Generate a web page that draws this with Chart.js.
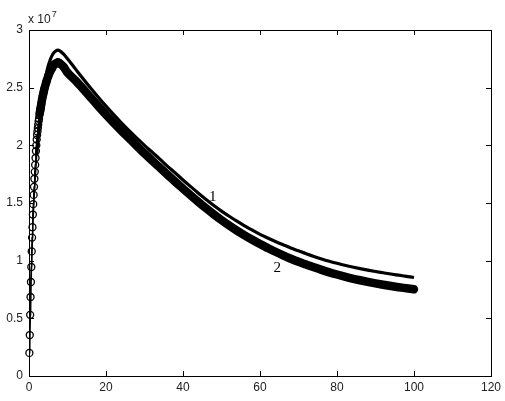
<!DOCTYPE html>
<html>
<head>
<meta charset="utf-8">
<script src="https://cdn.jsdelivr.net/npm/chart.js@4.4.1/dist/chart.umd.min.js"></script>
<style>
  body { margin: 0; background: #fff; }
  #wrap { width: 505px; height: 401px; }
</style>
</head>
<body>
<div id="wrap"><canvas id="plot" width="505" height="401"></canvas></div>
<script>
// values in units of 10^7
const curve1X = [0.1, 0.5, 1, 1.5, 2, 2.5, 3, 3.5, 4, 4.5, 5, 5.5, 6, 6.5, 7, 7.5, 8, 9, 10,
    12, 14, 16, 18, 20, 22, 24, 26, 28, 30, 32, 34, 36, 38, 40, 42, 44, 46, 48, 50,
    52, 54, 56, 58, 60, 62, 64, 66, 68, 70, 72, 74, 76, 78, 80, 82, 84, 86, 88, 90,
    92, 94, 96, 98, 100];
const curve1Y = [0.2, 0.78, 1.3, 1.65, 1.92, 2.12, 2.28, 2.42, 2.53, 2.62, 2.69, 2.74, 2.78, 2.805, 2.82, 2.825, 2.82, 2.79, 2.75,
    2.665, 2.58, 2.497, 2.417, 2.34, 2.266, 2.195, 2.127, 2.062, 2.0, 1.94, 1.88, 1.818, 1.76, 1.70, 1.642, 1.585, 1.53, 1.478, 1.43,
    1.385, 1.342, 1.302, 1.264, 1.228, 1.196, 1.166, 1.138, 1.11, 1.085, 1.06, 1.037, 1.015, 0.995, 0.977, 0.96, 0.945, 0.931, 0.918, 0.906,
    0.895, 0.884, 0.874, 0.864, 0.854];

const curve2X = [0.1, 0.2, 0.3, 0.4, 0.5, 0.6, 0.7, 0.8, 0.9, 1.0, 1.1, 1.2, 1.3, 1.4, 1.5, 1.6, 1.7, 1.8, 1.9, 2.0,
    2.1, 2.2, 2.3, 2.4, 2.5, 2.6, 2.7, 2.8, 2.9, 3.0, 3.2, 3.4, 3.6, 3.8, 4.0, 4.5, 5.0, 5.5, 6.0, 6.5, 7.0, 7.5, 8.0, 9, 10,
    12, 14, 16, 18, 20, 22, 24, 26, 28, 30, 32, 34, 36, 38, 40, 42, 44, 46, 48, 50,
    52, 54, 56, 58, 60, 62, 64, 66, 68, 70, 72, 74, 76, 78, 80, 82, 84, 86, 88, 90,
    92, 94, 96, 98, 100];
const curve2Y = [0.2, 0.355, 0.53, 0.685, 0.815, 0.945, 1.08, 1.2, 1.29, 1.4, 1.49, 1.57, 1.64, 1.71, 1.77, 1.83, 1.89, 1.95, 2.0, 2.05,
    2.09, 2.12, 2.15, 2.18, 2.21, 2.23, 2.26, 2.28, 2.30, 2.32, 2.36, 2.40, 2.43, 2.46, 2.49, 2.55, 2.60, 2.64, 2.67, 2.70, 2.71, 2.72, 2.71, 2.68, 2.63,
    2.565, 2.492, 2.416, 2.34, 2.266, 2.195, 2.127, 2.061, 1.995, 1.93, 1.867, 1.806, 1.745, 1.684, 1.625, 1.566, 1.509, 1.454, 1.402, 1.352,
    1.305, 1.261, 1.22, 1.181, 1.144, 1.11, 1.077, 1.046, 1.017, 0.99, 0.966, 0.942, 0.92, 0.899, 0.88, 0.862, 0.845, 0.83, 0.816, 0.803,
    0.791, 0.78, 0.77, 0.761, 0.752];

const xTicks = [0, 20, 40, 60, 80, 100, 120];
const yTicks = [0, 0.5, 1, 1.5, 2, 2.5, 3];

// curve labels: [text, x, y]
const curveLabels = [['1', 47.7, 1.55], ['2', 64.5, 0.94]];

const pts = (xs, ys) => xs.map((x, i) => ({ x: x, y: ys[i] }));
const line1 = pts(curve1X, curve1Y);
const all2 = pts(curve2X, curve2Y);
const rise2 = all2.filter(p => p.x <= 10);
const band2 = all2.filter(p => p.x >= 2.8);

const matlabFrame = {
    id: 'matlabFrame',
    afterDraw(chart) {
        const ctx = chart.ctx;
        const a = chart.chartArea;
        const xs = chart.scales.x, ys = chart.scales.y;
        ctx.save();
        ctx.strokeStyle = '#000';
        ctx.lineWidth = 1;
        ctx.strokeRect(Math.round(a.left) + 0.5, Math.round(a.top) + 0.5,
            Math.round(a.right - a.left), Math.round(a.bottom - a.top));
        ctx.beginPath();
        xTicks.forEach(v => {
            const px = Math.round(xs.getPixelForValue(v)) + 0.5;
            ctx.moveTo(px, a.bottom); ctx.lineTo(px, a.bottom - 5);
            ctx.moveTo(px, a.top); ctx.lineTo(px, a.top + 5);
        });
        yTicks.forEach(v => {
            const py = Math.round(ys.getPixelForValue(v)) + 0.5;
            ctx.moveTo(a.left, py); ctx.lineTo(a.left + 5, py);
            ctx.moveTo(a.right, py); ctx.lineTo(a.right - 5, py);
        });
        ctx.stroke();

        // exponent
        ctx.fillStyle = '#222';
        ctx.textBaseline = 'alphabetic';
        ctx.textAlign = 'left';
        ctx.font = '12px "Liberation Sans", Arial, sans-serif';
        ctx.fillText('x 10', a.left - 1, a.top - 7);
        const w = ctx.measureText('x 10').width;
        ctx.font = '9px "Liberation Sans", Arial, sans-serif';
        ctx.fillText('7', a.left - 1 + w + 1, a.top - 13);

        // curve numbers
        ctx.fillStyle = '#000';
        ctx.textAlign = 'center';
        ctx.textBaseline = 'middle';
        ctx.font = '15px "Liberation Serif", "Times New Roman", serif';
        curveLabels.forEach(([t, x, y]) => {
            ctx.fillText(t, xs.getPixelForValue(x), ys.getPixelForValue(y));
        });
        ctx.restore();
    }
};

new Chart(document.getElementById('plot'), {
    type: 'line',
    data: {
        datasets: [
            {
                label: '1',
                data: line1,
                borderColor: '#000',
                borderWidth: 3.2,
                pointRadius: 0,
                cubicInterpolationMode: 'monotone',
                segment: {
                    borderWidth: c => (c.p0.parsed.x < 2 ? 1.5 : 3.2)
                }
            },
            {
                label: '2 band',
                data: band2,
                borderColor: '#000',
                borderWidth: 8.5,
                borderCapStyle: 'round',
                borderJoinStyle: 'round',
                pointRadius: 0,
                cubicInterpolationMode: 'monotone'
            },
            {
                label: '2',
                data: rise2,
                borderColor: '#000',
                borderWidth: 1.2,
                pointRadius: 3.5,
                pointBorderWidth: 1.3,
                pointBorderColor: '#000',
                pointBackgroundColor: 'rgba(0,0,0,0)',
                tension: 0,
                clip: false
            }
        ]
    },
    options: {
        responsive: false,
        animation: false,
        layout: { padding: { left: 0, right: 12, top: 30, bottom: 0 } },
        plugins: { legend: { display: false }, tooltip: { enabled: false } },
        scales: {
            x: {
                type: 'linear',
                min: 0,
                max: 120,
                afterFit: s => { s.height = 25; },
                afterBuildTicks: s => { s.ticks = xTicks.map(v => ({ value: v })); },
                grid: { display: false, drawTicks: false },
                border: { display: false },
                ticks: {
                    padding: 4,
                    color: '#222',
                    font: { family: '"Liberation Sans", Arial, sans-serif', size: 12 },
                    maxRotation: 0,
                    callback: v => String(v)
                }
            },
            y: {
                type: 'linear',
                min: 0,
                max: 3,
                afterFit: s => { s.width = 29; },
                afterBuildTicks: s => { s.ticks = yTicks.map(v => ({ value: v })); },
                grid: { display: false, drawTicks: false },
                border: { display: false },
                ticks: {
                    padding: 6,
                    color: '#222',
                    font: { family: '"Liberation Sans", Arial, sans-serif', size: 12 },
                    callback: v => String(v)
                }
            }
        }
    },
    plugins: [matlabFrame]
});
</script>
</body>
</html>
